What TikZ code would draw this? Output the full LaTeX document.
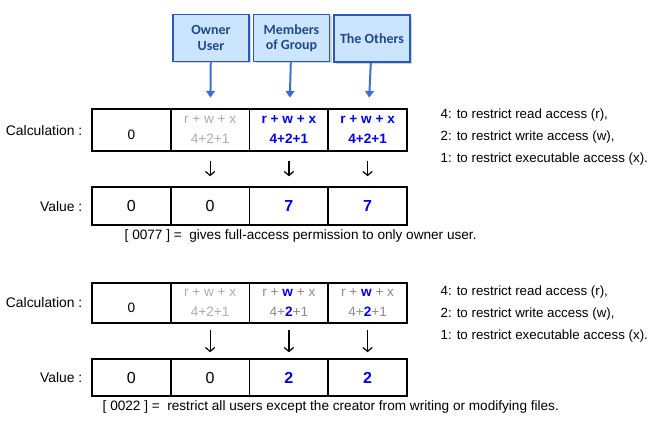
\documentclass[tikz,border=0pt]{standalone}
\usepackage{fontspec}
\setmainfont{Liberation Sans}
\newfontfamily\headfont{Carlito}
\usetikzlibrary{arrows.meta,shadows}
\definecolor{valblue}{RGB}{0,0,230}
\definecolor{headfill}{RGB}{204,229,255}
\definecolor{headdraw}{RGB}{40,90,190}
\definecolor{headtext}{RGB}{31,73,140}
\definecolor{pointblue}{RGB}{60,110,210}
\definecolor{lgray}{RGB}{172,172,172}
\definecolor{mgray}{RGB}{140,140,140}
\tikzset{
  head/.style={draw=headdraw, line width=1.2pt, fill=headfill, minimum width=57pt, minimum height=35.25pt,
    align=center, inner sep=1pt, text=headtext, font=\headfont\bfseries\fontsize{10.5}{11.5}\selectfont,
    drop shadow={shadow xshift=1.5pt, shadow yshift=-1.5pt, fill=black!35}},
  calc/.style={draw, line width=1.1pt, minimum width=59.06pt, minimum height=#1, inner sep=0pt,
    align=center, font=\fontsize{10.2}{15}\selectfont},
  calcb/.style={calc=#1, text=valblue, font=\fontsize{10.2}{15}\selectfont\bfseries},
  val/.style={draw, line width=1.1pt, minimum width=59.06pt, minimum height=#1, inner sep=0pt,
    font=\fontsize{12}{14}\selectfont},
  valb/.style={val=#1, text=valblue, font=\fontsize{12}{14}\selectfont\bfseries},
  rowlabel/.style={anchor=east, font=\fontsize{10.4}{12}\selectfont},
  note/.style={anchor=west, align=left, font=\fontsize{10}{16.5}\selectfont},
  remark/.style={anchor=west, font=\fontsize{10.2}{12}\selectfont},
  point/.style={draw=pointblue, line width=1.5pt, -{Triangle[width=6.5pt,length=5pt]}},
  down/.style={-{Straight Barb[length=3pt,width=7pt]}, line width=0.9pt}
}
\newcommand{\bw}[1]{{\color{valblue}\bfseries #1}}
\begin{document}
\begin{tikzpicture}[x=0.75pt, y=-0.75pt]
  \useasboundingbox (0,0) rectangle (650,427);
  \def\cA{131.4} \def\cB{210.1} \def\cC{288.9} \def\cD{367.6}
  % who gets the bits
  \node[head] (owner) at (211,38) {Owner\\User};
  \node[head] (group) at (291.5,38) {Members\\of Group};
  \node[head] (other) at (372,38.5) {The Others};
  % first example: 0077
  \node[calc=31.5pt] (c11) at (\cA,130) {\mbox{}\\0};
  \node[calc=31.5pt, text=lgray] (c12) at (\cB,130) {r + w + x\\4+2+1};
  \node[calcb=31.5pt] (c13) at (\cC,130) {r + w + x\\4+2+1};
  \node[calcb=31.5pt] (c14) at (\cD,130) {r + w + x\\4+2+1};
  \node[val=28.5pt] (v11) at (\cA,206) {0};
  \node[val=28.5pt] (v12) at (\cB,206) {0};
  \node[valb=28.5pt] (v13) at (\cC,206) {7};
  \node[valb=28.5pt] (v14) at (\cD,206) {7};
  \node[rowlabel] (lc1) at (87,131) {Calculation :};
  \node[rowlabel] (lv1) at (87,207) {Value :};
  \node[note] (n1) at (436,137) {4: to restrict read access (r),\\2: to restrict write access (w),\\1: to restrict executable access (x).};
  \node[remark] (r1) at (120,236) {[ 0077 ] =\ \ gives full-access permission to only owner user.};
  \draw[point] (owner) -- (c12) [shorten >=8pt];
  \draw[point] (group) -- (c13) [shorten >=8pt];
  \draw[point] (other) -- (c14) [shorten >=8pt];
  \foreach \i in {2,3,4}
    \draw[down, shorten <=7pt, shorten >=7.5pt] (c1\i) -- (v1\i);
  % second example: 0022
  \node[calc=30pt] (c21) at (\cA,303) {\mbox{}\\0};
  \node[calc=30pt, text=lgray] (c22) at (\cB,303) {r + w + x\\4+2+1};
  \node[calc=30pt, text=mgray] (c23) at (\cC,303) {r + \bw{w} + x\\4+\bw{2}+1};
  \node[calc=30pt, text=mgray] (c24) at (\cD,303) {r + \bw{w} + x\\4+\bw{2}+1};
  \node[val=27.75pt] (v21) at (\cA,377.5) {0};
  \node[val=27.75pt] (v22) at (\cB,377.5) {0};
  \node[valb=27.75pt] (v23) at (\cC,377.5) {2};
  \node[valb=27.75pt] (v24) at (\cD,377.5) {2};
  \node[rowlabel] (lc2) at (87,303) {Calculation :};
  \node[rowlabel] (lv2) at (87,378) {Value :};
  \node[note] (n2) at (436,314) {4: to restrict read access (r),\\2: to restrict write access (w),\\1: to restrict executable access (x).};
  \node[remark] (r2) at (98,407) {[ 0022 ] =\ \ restrict all users except the creator from writing or modifying files.};
  \foreach \i in {2,3,4}
    \draw[down, shorten <=5pt, shorten >=4.5pt] (c2\i) -- (v2\i);
\end{tikzpicture}
\end{document}
